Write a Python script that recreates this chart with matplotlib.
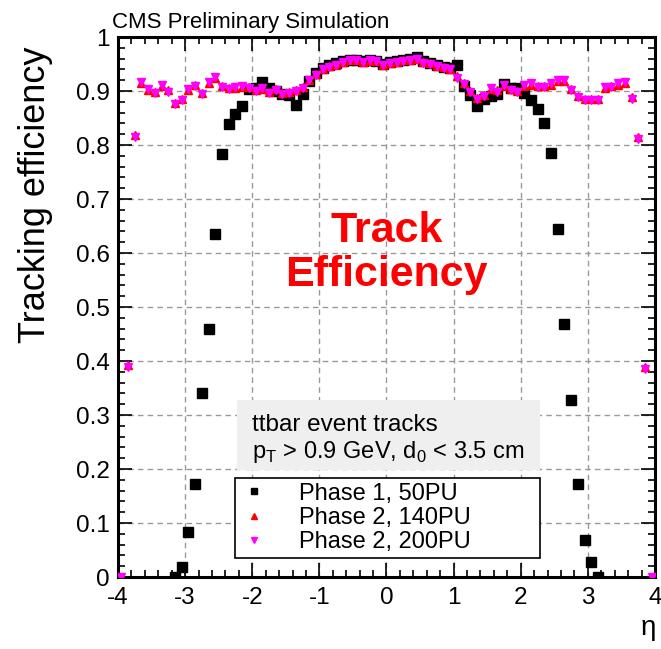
import numpy as np
import matplotlib.pyplot as plt
from matplotlib.patches import Rectangle

plt.rcParams["font.family"] = ["Liberation Sans", "DejaVu Sans"]

# eta bin centres (0.1 wide bins)
eta_phase2 = np.round(np.arange(-39.5, 40.0, 1.0) / 10.0, 2)
eta_phase1 = np.round(np.arange(-31.5, 32.0, 1.0) / 10.0, 2)

# Phase 1, 50PU
eff_phase1_50pu = [
    0.000, 0.018, 0.084, 0.172, 0.340, 0.459, 0.636, 0.783, 0.839, 0.857, 0.872,
    0.903, 0.905, 0.917, 0.905, 0.900, 0.895, 0.893, 0.874, 0.895, 0.919, 0.933,
    0.943, 0.948, 0.952, 0.955, 0.958, 0.958, 0.955, 0.957, 0.955, 0.950,
    0.953, 0.955, 0.958, 0.960, 0.963, 0.955, 0.952, 0.948, 0.945, 0.942,
    0.948, 0.910, 0.892, 0.873, 0.885, 0.890, 0.894, 0.913, 0.905, 0.905,
    0.896, 0.883, 0.867, 0.840, 0.785, 0.644, 0.468, 0.328, 0.173, 0.068, 0.027, 0.000,
]

# Phase 2, 140PU
eff_phase2_140pu = [
    0.000, 0.392, 0.818, 0.915, 0.901, 0.898, 0.909, 0.901, 0.878, 0.885,
    0.901, 0.911, 0.896, 0.915, 0.924, 0.910, 0.905, 0.905, 0.908,
    0.907, 0.902, 0.903, 0.899, 0.904, 0.897, 0.899, 0.902, 0.907, 0.921,
    0.931, 0.941, 0.946, 0.949, 0.954, 0.957, 0.958, 0.954, 0.956, 0.956,
    0.949, 0.952, 0.954, 0.957, 0.957, 0.959, 0.953, 0.951, 0.947, 0.944,
    0.941, 0.927, 0.915, 0.900, 0.887, 0.893, 0.903, 0.901, 0.910, 0.904, 0.900,
    0.909, 0.912, 0.910, 0.910, 0.912, 0.919, 0.918, 0.904, 0.891, 0.886,
    0.885, 0.885, 0.906, 0.910, 0.912, 0.915, 0.888, 0.815, 0.388, 0.000,
]

# Phase 2, 200PU
eff_phase2_200pu = [
    0.000, 0.389, 0.815, 0.917, 0.903, 0.896, 0.911, 0.899, 0.876, 0.883,
    0.903, 0.909, 0.894, 0.917, 0.926, 0.908, 0.903, 0.907, 0.910,
    0.905, 0.900, 0.905, 0.897, 0.902, 0.895, 0.897, 0.900, 0.905, 0.920,
    0.930, 0.940, 0.945, 0.948, 0.953, 0.958, 0.957, 0.953, 0.957, 0.955,
    0.948, 0.951, 0.953, 0.956, 0.958, 0.960, 0.952, 0.950, 0.946, 0.943,
    0.940, 0.925, 0.913, 0.898, 0.885, 0.891, 0.905, 0.899, 0.912, 0.902, 0.898,
    0.911, 0.914, 0.908, 0.908, 0.914, 0.921, 0.920, 0.902, 0.889, 0.884,
    0.883, 0.883, 0.908, 0.908, 0.914, 0.917, 0.886, 0.812, 0.385, 0.000,
]

labels = ["Phase 1, 50PU", "Phase 2, 140PU", "Phase 2, 200PU"]

fig = plt.figure(figsize=(6.61, 6.49), dpi=100)
ax = fig.add_axes([118 / 661, 1 - 577 / 649, 537 / 661, 540 / 649])

h1, = ax.plot(eta_phase1, eff_phase1_50pu, ls="none", marker="s", ms=6.5,
              color="black", label=labels[0], zorder=3)
h2, = ax.plot(eta_phase2, eff_phase2_140pu, ls="none", marker="^", ms=5.5,
              color="#ff0000", label=labels[1], zorder=4)
h3, = ax.plot(eta_phase2, eff_phase2_200pu, ls="none", marker="v", ms=5.5,
              color="#ff00ff", label=labels[2], zorder=5)

ax.set_xlim(-4, 4)
ax.set_ylim(0, 1)
ax.set_xticks(np.arange(-4, 5, 1))
ax.set_xticks(np.arange(-4, 4.01, 0.2), minor=True)
ax.set_yticks(np.arange(0, 1.01, 0.1))
ax.set_yticks(np.arange(0, 1.001, 0.02), minor=True)
ax.set_xticklabels(["-4", "-3", "-2", "-1", "0", "1", "2", "3", "4"])
ax.set_yticklabels(["0", "0.1", "0.2", "0.3", "0.4", "0.5", "0.6", "0.7",
                    "0.8", "0.9", "1"])

ax.tick_params(which="both", direction="in", top=True, right=True,
               labelsize=17.5, width=1.2)
ax.tick_params(which="major", length=10)
ax.tick_params(which="minor", length=5)
ax.tick_params(axis="x", pad=7)
ax.tick_params(axis="y", pad=6)
for s in ax.spines.values():
    s.set_linewidth(2.2)

ax.grid(True, which="major", color="#999999", ls=(0, (4, 3)), lw=1.0)
ax.set_axisbelow(True)

fig.text(112 / 661, 1 - 28 / 649, "CMS Preliminary Simulation",
         fontsize=16, va="baseline", ha="left")
fig.text(36 / 661, 1 - 195 / 649, "Tracking efficiency", rotation=90,
         fontsize=26, ha="center", va="center")
fig.text(648 / 661, 1 - 628 / 649, "η", fontsize=20, ha="center", va="center")

ax.text(0, 0.60, "Track\nEfficiency", color="#ff0000", fontsize=31,
        fontweight="bold", ha="center", va="center", linespacing=1.15,
        zorder=6)

# header box above the legend
ax.add_patch(Rectangle((0.2216, 0.198), 0.565, 0.130, transform=ax.transAxes,
                       facecolor="#efefef", edgecolor="none", zorder=6))
ax.text(0.2495, 0.2815, "ttbar event tracks", transform=ax.transAxes,
        fontsize=17.5, va="center", ha="left", zorder=7)
ax.text(0.2495, 0.2315, r"p$_\mathregular{T}$ > 0.9 GeV, d$_\mathregular{0}$ < 3.5 cm",
        transform=ax.transAxes, fontsize=17, va="center", ha="left", zorder=7)

leg = ax.legend(handles=[h1, h2, h3], loc="lower left",
                bbox_to_anchor=(0.218, 0.035, 0.568, 0.159), mode="expand",
                borderaxespad=0, fontsize=17, frameon=True, fancybox=False,
                edgecolor="black", framealpha=1, markerscale=0.75,
                handlelength=1.2, handletextpad=1.3, labelspacing=0.1,
                borderpad=0.2)
leg.get_frame().set_linewidth(1.2)
leg.set_zorder(7)

fig.savefig("out.png", dpi=100)
